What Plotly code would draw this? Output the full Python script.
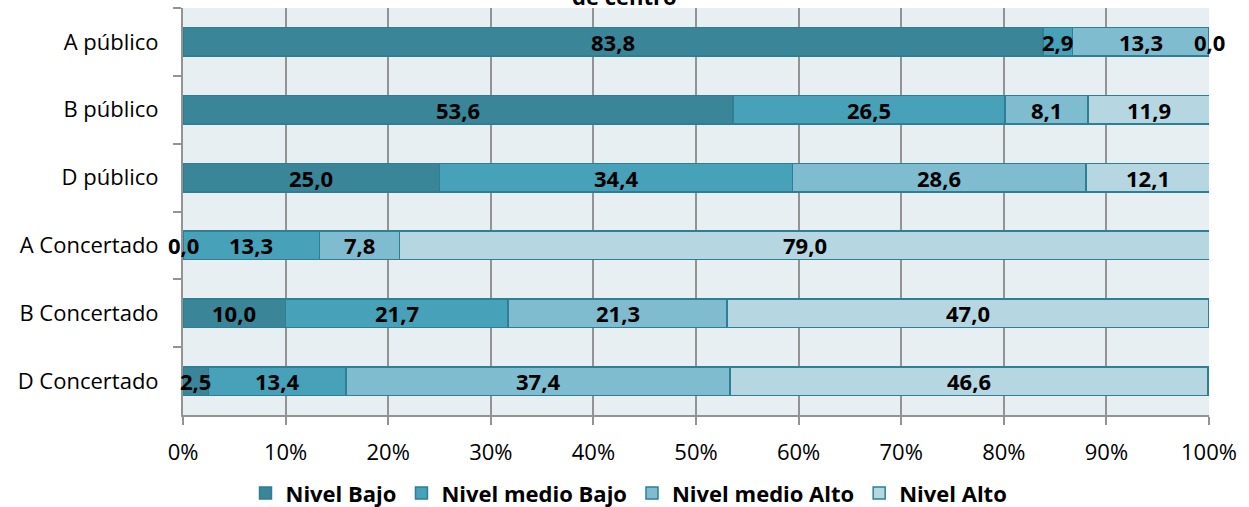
import plotly.graph_objects as go

categories = ["A público", "B público", "D público", "A Concertado", "B Concertado", "D Concertado"]
series_names = ["Nivel Bajo", "Nivel medio Bajo", "Nivel medio Alto", "Nivel Alto"]
nivel_bajo = [83.8, 53.6, 25.0, 0.0, 10.0, 2.5]
nivel_medio_bajo = [2.9, 26.5, 34.4, 13.3, 21.7, 13.4]
nivel_medio_alto = [13.3, 8.1, 28.6, 7.8, 21.3, 37.4]
nivel_alto = [0.0, 11.9, 12.1, 79.0, 47.0, 46.6]
x_ticks = [0, 10, 20, 30, 40, 50, 60, 70, 80, 90, 100]
x_tick_labels = [f"{t}%" for t in x_ticks]

series = [nivel_bajo, nivel_medio_bajo, nivel_medio_alto, nivel_alto]
colors = ["#3A8598", "#46A1B9", "#7FBCD0", "#B6D6E1"]
line_color = "#2E7F93"
font_family = "Open Sans"

fig = go.Figure()
for name, vals, col in zip(series_names, series, colors):
    fig.add_trace(go.Bar(
        y=categories, x=vals, name=name, orientation="h",
        marker=dict(color=col, line=dict(color=line_color, width=1.5)),
        width=0.42, hoverinfo="x+y+name",
    ))

# value labels centered in each segment
annotations = []
for i, cat in enumerate(categories):
    cum = 0.0
    for vals in series:
        v = vals[i]
        annotations.append(dict(
            x=cum + v / 2, y=cat, xref="x", yref="y",
            text=f"{v:.1f}".replace(".", ","), showarrow=False,
            font=dict(family=font_family, size=22, color="black", weight="bold"),
        ))
        cum += v

annotations.append(dict(
    x=(624.5 - 183) / 1026, y=1.03, xref="paper", yref="paper",
    text="<b>de centro</b>", showarrow=False, yanchor="middle",
    font=dict(family=font_family, size=22, color="black"),
))

fig.update_layout(
    width=1249, height=507,
    margin=dict(l=183, r=40, t=8, b=92, autoexpand=False),
    barmode="stack",
    plot_bgcolor="#E8EFF3",
    paper_bgcolor="white",
    font=dict(family=font_family, size=22, color="black"),
    annotations=annotations,
    showlegend=True,
    legend=dict(
        orientation="h", x=(629 - 183) / 1026, xanchor="center",
        y=-0.192, yanchor="middle",
        font=dict(family=font_family, size=22, color="black", weight="bold"),
        traceorder="normal", itemwidth=30,
    ),
    xaxis=dict(
        range=[0, 100], tickmode="array", tickvals=x_ticks, ticktext=x_tick_labels,
        showgrid=True, gridcolor="#939393", gridwidth=2,
        ticks="outside", ticklen=8, tickcolor="#939393", tickwidth=2,
        showline=True, linecolor="#939393", linewidth=2,
        zeroline=False, fixedrange=True,
        tickfont=dict(size=22), ticklabelstandoff=9,
    ),
    yaxis=dict(
        autorange="reversed", categoryorder="array", categoryarray=categories,
        showgrid=False, ticks="outside", tickson="boundaries", ticklen=8,
        tickcolor="#939393", tickwidth=2,
        showline=True, linecolor="#939393", linewidth=2,
        tickfont=dict(size=22), ticklabelstandoff=18,
    ),
)

fig.write_html("out.html", config={"displayModeBar": False},
               post_script="document.body.style.margin='0px';")
